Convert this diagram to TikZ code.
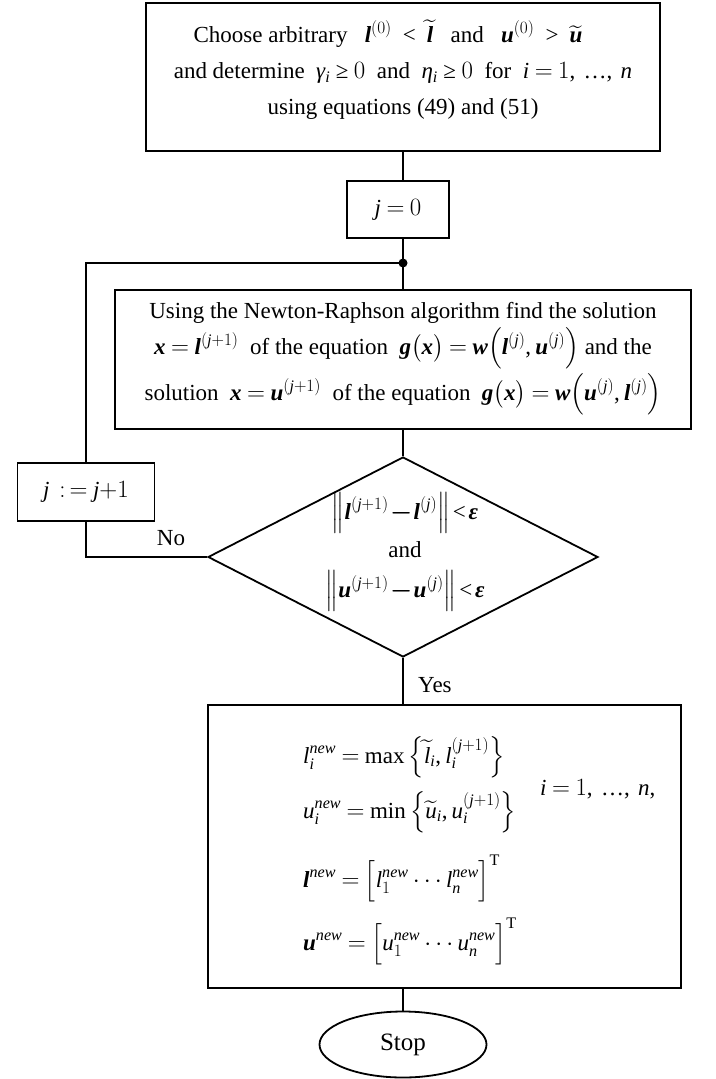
\documentclass[tikz,border=0pt]{standalone}
\usepackage{amsmath}
\usepackage{amssymb}
\usepackage{fontspec}
\setmainfont{Liberation Serif}
\DeclareSymbolFont{tletters}{TU}{\rmdefault}{m}{it}
\SetSymbolFont{tletters}{bold}{TU}{\rmdefault}{b}{it}
\DeclareSymbolFont{tupright}{TU}{\rmdefault}{m}{n}
\SetSymbolFont{tupright}{bold}{TU}{\rmdefault}{b}{n}
\newcount\lettercnt
\lettercnt=`a
\loop
  \Umathcode\lettercnt = 7 \symtletters \lettercnt
  \advance\lettercnt by 1
\ifnum\lettercnt<\numexpr`z+1\relax\repeat
\lettercnt=`0
\loop
  \Umathcode\lettercnt = 0 \symtupright \lettercnt
  \advance\lettercnt by 1
\ifnum\lettercnt<\numexpr`9+1\relax\repeat
\Umathcode`( = 4 \symtupright `(
\Umathcode`) = 5 \symtupright `)
\Umathcode`[ = 4 \symtupright `[
\Umathcode`] = 5 \symtupright `]
\Umathcode`, = 6 \symtupright `,
\Umathcode`+ = 2 \symtupright `+
\Umathcode`= = 3 \symtupright `=
\Umathcode`< = 3 \symtupright `<
\Umathcode`> = 3 \symtupright `>
\AtBeginDocument{%
  \Umathchardef\gamma = 0 \symtletters "03B3
  \Umathchardef\eta = 0 \symtletters "03B7
  \Umathchardef\geq = 3 \symtupright "2265
  \Umathchardef\mydots = 0 \symtupright "2026
}
\newcommand{\bv}[1]{\text{\normalfont\bfseries\itshape #1\/}}
\usetikzlibrary{shapes.geometric}
\tikzset{
  every node/.style={font=\fontsize{23}{36}\selectfont, inner sep=0pt},
  flowbox/.style={draw, line width=1.8pt, rectangle, align=center},
  conn/.style={line width=1.8pt},
  lbl/.style={font=\fontsize{23}{27}\selectfont}
}
\begin{document}
\begin{tikzpicture}[x=1pt,y=-1pt]
\useasboundingbox[fill=white] (0,0) rectangle (715,1079);
\thickmuskip=4mu plus 2mu
\medmuskip=3mu plus 1mu

\node[flowbox, minimum width=514pt, minimum height=148pt] (top) at (403,77) {};
\node[align=center] (toptext) at (403,70) {Choose arbitrary\ \ \ $\thickmuskip=8mu\bv{l}^{(0)}<\widetilde{\bv{l}}$\ \ \ and\ \ \ $\thickmuskip=8mu\bv{u}^{(0)}>\widetilde{\bv{u}}$\hspace*{30pt}\\
and determine\ \ $\gamma_i\geq 0$\ \ and\ \ $\eta_i\geq 0$\ \ for\ \ $i=1,\,\mydots,\,n$\\
using equations (49) and (51)};

\node[flowbox, minimum width=102pt, minimum height=57pt] (j0) at (398,209.5) {$j=0$};

\coordinate (junc) at (403,263);

\node[flowbox, minimum width=576pt, minimum height=139pt] (newton) at (403,359.5) {Using the Newton-Raphson algorithm find the solution\\
$\bv{x}=\bv{l}^{(j+1)}$\ \ of the equation\ \ $\bv{g}\bigl(\bv{x}\bigr)=\bv{w}\Bigl(\bv{l}^{(j)},\bv{u}^{(j)}\Bigr)$\ and the\\
solution\ \ $\bv{x}=\bv{u}^{(j+1)}$\ \ of the equation\ \ $\bv{g}\bigl(\bv{x}\bigr)=\bv{w}\Bigl(\bv{u}^{(j)},\bv{l}^{(j)}\Bigr)$};

\node[draw, line width=1.8pt, diamond, minimum width=390pt, minimum height=200pt] (dia) at (403,557) {};
\node[align=center] (diatext) at (405,552) {$\medmuskip=1mu\thickmuskip=2mu\Bigl\|\bv{l}^{(j+1)}\boldsymbol{-}\bv{l}^{(j)}\Bigr\|<\bv{ε}$\\[2pt]
and\\[4pt]
$\medmuskip=1mu\thickmuskip=2mu\Bigl\|\bv{u}^{(j+1)}\boldsymbol{-}\bv{u}^{(j)}\Bigr\|<\bv{ε}$};

\node[flowbox, minimum width=137pt, minimum height=58pt] (jinc) at (86,492) {$j\,:\,=j{+}1$};

\node[flowbox, minimum width=473pt, minimum height=283pt] (final) at (444.5,846.5) {};
\node[anchor=base west] (eq1) at (303,763) {$l_i^{new}=\max\,\Bigl\{\widetilde{l}_i,l_i^{(j+1)}\Bigr\}$};
\node[anchor=base west] (eq2) at (303,818) {$u_i^{new}=\min\,\Bigl\{\widetilde{u}_i,u_i^{(j+1)}\Bigr\}$};
\node[anchor=base west] (range) at (540,795) {$i=1,\,\mydots,\,n,$};
\node[anchor=base west] (eq3) at (303,887) {$\bv{l}^{new}=\Bigl[l_1^{new}\cdots l_n^{new}\Bigr]^{\mathrm{T}}$};
\node[anchor=base west] (eq4) at (303,950) {$\bv{u}^{new}=\Bigl[u_1^{new}\cdots u_n^{new}\Bigr]^{\mathrm{T}}$};

\node[draw, line width=1.8pt, ellipse, minimum width=167pt, minimum height=66pt, font=\fontsize{25}{30}\selectfont] (stop) at (403,1044.5) {Stop};

\node[lbl] (no) at (171,538) {No};
\node[lbl, anchor=west] (yes) at (418,685) {Yes};

\draw[conn] (top.south) -- (top.south |- j0.north);
\draw[conn] (newton.north |- j0.south) -- (newton.north);
\fill (junc) circle (4.5pt);
\draw[conn] (jinc.north) |- (junc);
\draw[conn] (dia.west) -| (jinc.south);
\draw[conn] (newton.south) -- (dia.north);
\draw[conn] (dia.south) -- (dia.south |- final.north);
\draw[conn] (stop.north |- final.south) -- (stop.north);
\end{tikzpicture}
\end{document}
